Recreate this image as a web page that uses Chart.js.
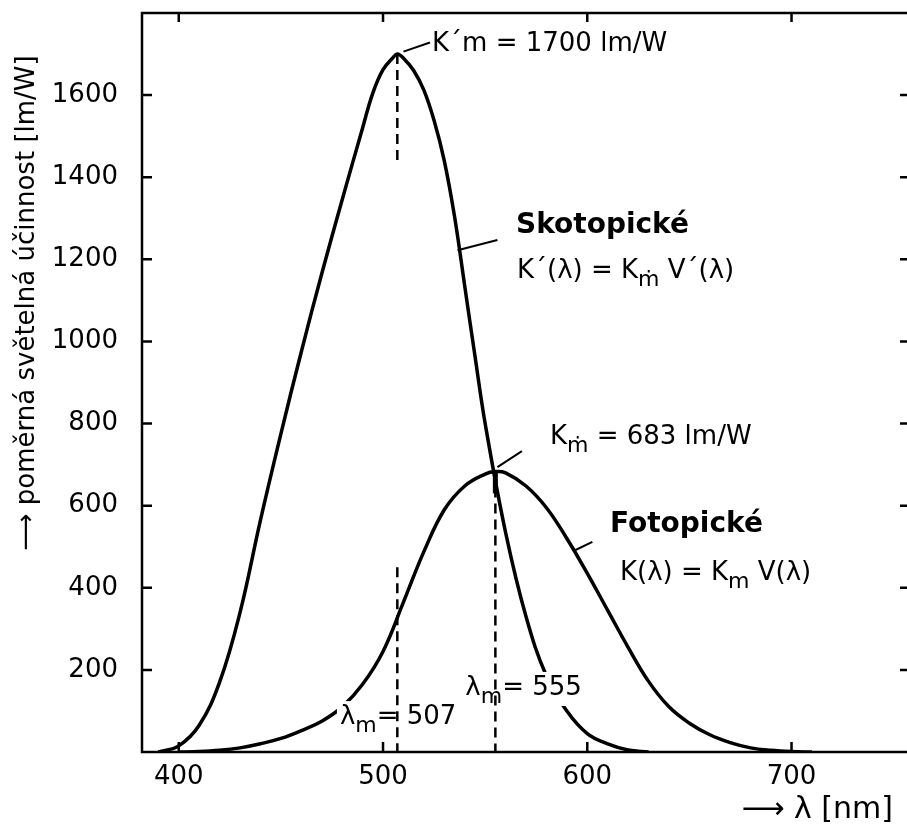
<!DOCTYPE html>
<html>
<head>
<meta charset="utf-8">
<script src="https://cdn.jsdelivr.net/npm/chart.js@4.4.0/dist/chart.umd.min.js"></script>
<style>
  html, body { margin: 0; padding: 0; background: #fff; overflow: hidden; }
</style>
</head>
<body>
<canvas id="myChart" width="912" height="828"></canvas>
<script>
// values: wavelength [nm] -> efficacy [lm/W]
var scotLambda = [390, 400, 410, 420, 430, 440, 450, 460, 470, 480, 490, 495, 500, 505, 507, 510, 515, 520, 525, 530, 535, 540, 545, 550, 560, 570, 580, 590, 600, 610, 620, 630];
var scotValues = [0, 15, 65, 170, 340, 565, 775, 975, 1165, 1345, 1520, 1605, 1662, 1692, 1700, 1690, 1660, 1612, 1538, 1440, 1305, 1135, 965, 800, 535, 330, 185, 100, 45, 20, 5, 0];

var photLambda = [400, 410, 420, 430, 440, 450, 460, 470, 480, 490, 500, 510, 520, 530, 540, 550, 555, 560, 570, 580, 590, 600, 610, 620, 630, 640, 650, 660, 670, 680, 690, 700, 710];
var photValues = [0, 1, 4, 10, 20, 33, 52, 75, 110, 165, 245, 365, 488, 590, 648, 677, 683, 680, 648, 595, 520, 435, 345, 255, 172, 110, 70, 42, 23, 10, 4, 1, 0];

var xTicks = [400, 500, 600, 700];
var yTicks = [200, 400, 600, 800, 1000, 1200, 1400, 1600];

var scotPeak = 507, scotMax = 1700;
var photPeak = 555, photMax = 683;

function pairs(xs, ys) {
  return xs.map((x, i) => ({ x: x, y: ys[i] }));
}

var FONT = 'DejaVu Sans';

function fontOf(p) {
  return (p.bold ? 'bold ' : '') + (p.size || 26) + 'px "' + FONT + '"';
}

// draws a run of text pieces (for subscripts) starting at x, centred on y
function drawRich(ctx, x, y, parts, bg) {
  var w = 0;
  parts.forEach(p => { ctx.font = fontOf(p); p.w = ctx.measureText(p.t).width; w += p.w; });
  if (bg) {
    ctx.fillStyle = '#fff';
    ctx.fillRect(x - 3, y - 16, w + 6, 34);
  }
  ctx.fillStyle = '#000';
  ctx.textAlign = 'left';
  ctx.textBaseline = 'middle';
  parts.forEach(p => { ctx.font = fontOf(p); ctx.fillText(p.t, x, y + (p.dy || 0)); x += p.w; });
}
function t(s, bold, size) { return { t: s, bold: bold, size: size }; }
function sub(s) { return { t: s, size: 22, dy: 9 }; }

var annotations = {
  id: 'annotations',
  afterDraw(chart) {
    var ctx = chart.ctx, xs = chart.scales.x, ys = chart.scales.y, a = chart.chartArea;
    var X = v => xs.getPixelForValue(v), Y = v => ys.getPixelForValue(v);
    ctx.save();
    ctx.strokeStyle = '#000';
    ctx.lineCap = 'butt';

    // frame
    ctx.lineWidth = 2.5;
    ctx.strokeRect(a.left, a.top, a.right - a.left, a.bottom - a.top);

    // inward tick marks
    ctx.beginPath();
    yTicks.forEach(v => {
      ctx.moveTo(a.left, Y(v)); ctx.lineTo(a.left + 10, Y(v));
      ctx.moveTo(a.right, Y(v)); ctx.lineTo(a.right - 10, Y(v));
    });
    xTicks.forEach(v => {
      ctx.moveTo(X(v), a.top); ctx.lineTo(X(v), a.top + 9);
      ctx.moveTo(X(v), a.bottom); ctx.lineTo(X(v), a.bottom - 10);
    });
    ctx.stroke();

    // leader lines
    ctx.lineWidth = 2;
    ctx.beginPath();
    ctx.moveTo(X(510), Y(1706)); ctx.lineTo(X(523), Y(1728));
    ctx.moveTo(X(536.5), Y(1222)); ctx.lineTo(X(556), Y(1247));
    ctx.moveTo(X(556), Y(694)); ctx.lineTo(X(568), Y(733));
    ctx.moveTo(X(593), Y(489)); ctx.lineTo(X(602.5), Y(512));
    ctx.stroke();

    // labels on white (they interrupt the curves)
    drawRich(ctx, X(478.9), Y(85), [t('λ'), sub('m'), t('= 507')], true);
    drawRich(ctx, X(540.3), Y(156), [t('λ'), sub('m'), t('= 555')], true);

    // dashed marker lines at the maxima
    ctx.lineWidth = 2.5;
    ctx.setLineDash([10, 6]);
    ctx.beginPath();
    ctx.moveTo(X(scotPeak), Y(scotMax)); ctx.lineTo(X(scotPeak), Y(1435));
    ctx.moveTo(X(scotPeak), Y(450)); ctx.lineTo(X(scotPeak), Y(0));
    ctx.moveTo(X(photPeak), Y(photMax)); ctx.lineTo(X(photPeak), Y(0));
    ctx.stroke();
    ctx.setLineDash([]);
    ctx.lineWidth = 5;
    ctx.beginPath();
    ctx.moveTo(X(photPeak), Y(photMax)); ctx.lineTo(X(photPeak), Y(630));
    ctx.stroke();

    // texts
    drawRich(ctx, X(524), Y(1725), [t('K´m = 1700 lm/W')]);
    drawRich(ctx, X(565.1), Y(1283), [t('Skotopické', true, 28)]);
    drawRich(ctx, X(565.6), Y(1172), [t('K´(λ) = K'), sub('ṁ'), t(' V´(λ)')]);
    drawRich(ctx, X(581.7), Y(767), [t('K'), sub('ṁ'), t(' = 683 lm/W')]);
    drawRich(ctx, X(611.1), Y(553), [t('Fotopické', true, 28)]);
    drawRich(ctx, X(616), Y(436), [t('K(λ) = K'), sub('m'), t(' V(λ)')]);

    // axis titles
    ctx.fillStyle = '#000';
    ctx.font = '30px "' + FONT + '"';
    ctx.textAlign = 'right';
    ctx.textBaseline = 'middle';
    ctx.fillText('⟶ λ [nm]', 893, 810);

    ctx.translate(27, 303);
    ctx.rotate(-Math.PI / 2);
    ctx.textAlign = 'center';
    ctx.font = '26px "' + FONT + '"';
    ctx.fillText('⟶ poměrná světelná účinnost [lm/W]', 0, 0);
    ctx.restore();
  }
};

var ctx = document.getElementById('myChart').getContext('2d');

var myChart = new Chart(ctx, {
  type: 'line',
  data: {
    datasets: [{
      label: 'Skotopické',
      data: pairs(scotLambda, scotValues),
      borderColor: '#000',
      borderWidth: 3.5,
      pointRadius: 0,
      tension: 0.4,
      fill: false
    },
    {
      label: 'Fotopické',
      data: pairs(photLambda, photValues),
      borderColor: '#000',
      borderWidth: 3.5,
      pointRadius: 0,
      tension: 0.4,
      fill: false
    }]
  },
  options: {
    responsive: false,
    animation: false,
    devicePixelRatio: 1,
    layout: { padding: { left: 42, right: 2, top: 13, bottom: 0 } },
    plugins: { legend: { display: false }, tooltip: { enabled: false } },
    scales: {
      x: {
        type: 'linear',
        min: 382,
        max: 758,
        afterBuildTicks: s => { s.ticks = xTicks.map(v => ({ value: v })); },
        afterFit: s => { s.height = 76; s.paddingLeft = 0; s.paddingRight = 0; },
        grid: { display: false, drawTicks: false },
        border: { display: false },
        ticks: { color: '#000', padding: 10, font: { family: FONT, size: 26 }, callback: v => String(v) }
      },
      y: {
        type: 'linear',
        min: 0,
        max: 1800,
        afterBuildTicks: s => { s.ticks = yTicks.map(v => ({ value: v })); },
        afterFit: s => { s.width = 100; s.paddingTop = 0; s.paddingBottom = 0; },
        grid: { display: false, drawTicks: false },
        border: { display: false },
        ticks: { color: '#000', padding: 24, font: { family: FONT, size: 26 }, callback: v => String(v) }
      }
    }
  },
  plugins: [annotations]
});
</script>
</body>
</html>
